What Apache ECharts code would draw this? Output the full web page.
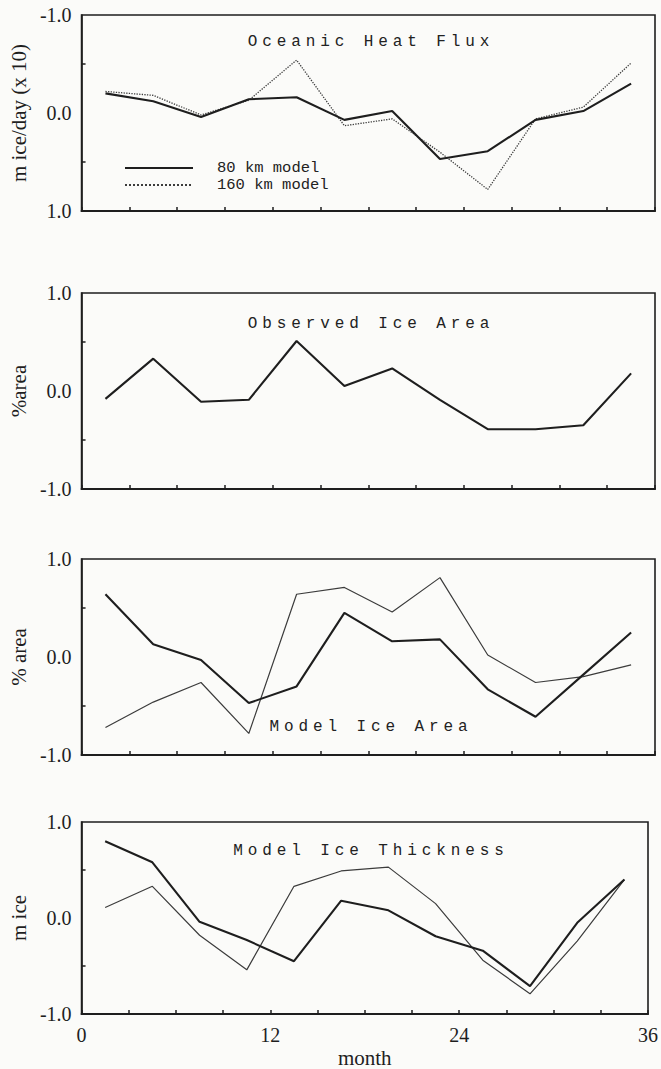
<!DOCTYPE html>
<html>
<head>
<meta charset="utf-8">
<script src="https://cdn.jsdelivr.net/npm/echarts@6/dist/echarts.min.js"></script>
<style>
html,body{margin:0;padding:0;background:#fbfbf9;}
#chart{width:661px;height:1069px;}
</style>
</head>
<body>
<div id="chart"></div>
<script>
// ---- data ----
const months = [1.5, 4.5, 7.5, 10.5, 13.5, 16.5, 19.5, 22.5, 25.5, 28.5, 31.5, 34.5];
const xTickLabels = ['0', '12', '24', '36'];
const yTickLabels = ['-1.0', '0.0', '1.0'];
const panelTitles = ['Oceanic Heat Flux', 'Observed Ice Area', 'Model Ice Area', 'Model Ice Thickness'];
const yNames = ['m ice/day (x 10)', '%area', '% area', 'm ice'];
const legendNames = ['80 km model', '160 km model'];

const heatFlux80  = [-0.20, -0.12, 0.04, -0.14, -0.16, 0.07, -0.02, 0.47, 0.39, 0.07, -0.02, -0.30];
const heatFlux160 = [-0.22, -0.18, 0.02, -0.13, -0.54, 0.13, 0.06, 0.40, 0.78, 0.06, -0.06, -0.51];
const obsArea     = [-0.08, 0.33, -0.11, -0.09, 0.51, 0.05, 0.23, -0.09, -0.39, -0.39, -0.35, 0.18];
const modelArea80  = [0.64, 0.13, -0.03, -0.47, -0.30, 0.45, 0.16, 0.18, -0.33, -0.61, -0.18, 0.25];
const modelArea160 = [-0.72, -0.46, -0.26, -0.78, 0.64, 0.71, 0.46, 0.81, 0.02, -0.26, -0.20, -0.08];
const thick80  = [0.80, 0.58, -0.04, -0.23, -0.45, 0.18, 0.08, -0.19, -0.34, -0.71, -0.05, 0.40];
const thick160 = [0.11, 0.33, -0.18, -0.54, 0.33, 0.49, 0.53, 0.15, -0.44, -0.79, -0.24, 0.40];

// ---- layout ----
const gridTops = [15, 293, 559, 822];
const gridH = 196;
const gridLeft = 81, gridRight = 6;
const titleTops = [29, 311, 714, 838];
const ink = '#1e1e1e';
const serif = '"Liberation Serif", "DejaVu Serif", serif';
const mono = '"Liberation Mono", "DejaVu Sans Mono", monospace';

function pairs(ys) { return months.map((m, i) => [m, ys[i]]); }

const grids = [], xAxes = [], yAxes = [], titles = [];
for (let i = 0; i < 4; i++) {
  grids.push({left: gridLeft, right: gridRight, top: gridTops[i], height: gridH,
    show: true, borderColor: ink, borderWidth: 1.6, backgroundColor: 'transparent', containLabel: false});
  xAxes.push({
    type: 'value', gridIndex: i, min: 0, max: 36, interval: 3,
    axisLine: {show: true, onZero: false, lineStyle: {color: ink, width: 2}},
    axisTick: {show: true, inside: true, length: 4, lineStyle: {color: ink, width: 1.5}},
    splitLine: {show: false},
    axisLabel: {show: i === 3, margin: 11, color: ink, fontFamily: serif, fontSize: 20,
      formatter: v => (v % 12 === 0 ? xTickLabels[v / 12] : '')},
    name: i === 3 ? 'month' : '', nameLocation: 'middle', nameGap: 33,
    nameTextStyle: {color: ink, fontFamily: serif, fontSize: 21}
  });
  yAxes.push({
    type: 'value', gridIndex: i, min: -1, max: 1, interval: 0.5, inverse: i === 0,
    axisLine: {show: true, onZero: false, lineStyle: {color: ink, width: 1.6}},
    axisTick: {show: true, inside: true, length: 4, lineStyle: {color: ink, width: 1.5},
      customValues: [-0.5, 0.5]},
    splitLine: {show: false},
    axisLabel: {margin: 10, color: ink, fontFamily: serif, fontSize: 20,
      formatter: v => (Math.abs(v - Math.round(v)) < 1e-9 ? yTickLabels[Math.round(v) + 1] : '')},
    name: yNames[i], nameLocation: 'middle', nameRotate: 90, nameGap: 50,
    nameTextStyle: {color: ink, fontFamily: serif, fontSize: 21}
  });
  titles.push({text: panelTitles[i], left: 366, top: titleTops[i], textAlign: 'left',
    textStyle: {fontFamily: mono, fontSize: 16, fontWeight: 'normal', color: '#222'}});
}

const solid = {color: ink, width: 2.1, type: 'solid'};
const thinDotted = {color: '#3c3c3c', width: 1.3, type: 'dotted'};
const thin = {color: '#3c3c3c', width: 1.2, type: 'solid'};

function line(name, gi, ys, style) {
  return {name, type: 'line', xAxisIndex: gi, yAxisIndex: gi, data: pairs(ys),
    symbol: 'none', lineStyle: style, itemStyle: {color: style.color}, z: style.width > 2 ? 3 : 2, silent: true};
}

const option = {
  animation: false,
  backgroundColor: '#fbfbf9',
  title: titles,
  grid: grids,
  xAxis: xAxes,
  yAxis: yAxes,
  legend: {
    data: legendNames, orient: 'vertical', left: 124, top: 160, padding: 0,
    itemWidth: 68, itemHeight: 14, itemGap: 1,
    itemStyle: {opacity: 0},
    textStyle: {fontFamily: mono, fontSize: 15.5, color: '#222', padding: [0, 0, 0, 19]},
    selectedMode: false
  },
  series: [
    line(legendNames[0], 0, heatFlux80, solid),
    line(legendNames[1], 0, heatFlux160, thinDotted),
    line('Observed', 1, obsArea, solid),
    line('Model area 80', 2, modelArea80, solid),
    line('Model area 160', 2, modelArea160, thin),
    line('Model thickness 80', 3, thick80, solid),
    line('Model thickness 160', 3, thick160, thin)
  ]
};

const chart = echarts.init(document.getElementById('chart'), null, {renderer: 'svg'});
chart.setOption(option);

function spaceTitles() {
  document.querySelectorAll('#chart svg text').forEach(t => {
    if (panelTitles.indexOf(t.textContent) >= 0) {
      t.style.letterSpacing = '4.9px';
      t.setAttribute('text-anchor', 'middle');
    }
  });
}
chart.on('finished', spaceTitles);
spaceTitles();
</script>
</body>
</html>
